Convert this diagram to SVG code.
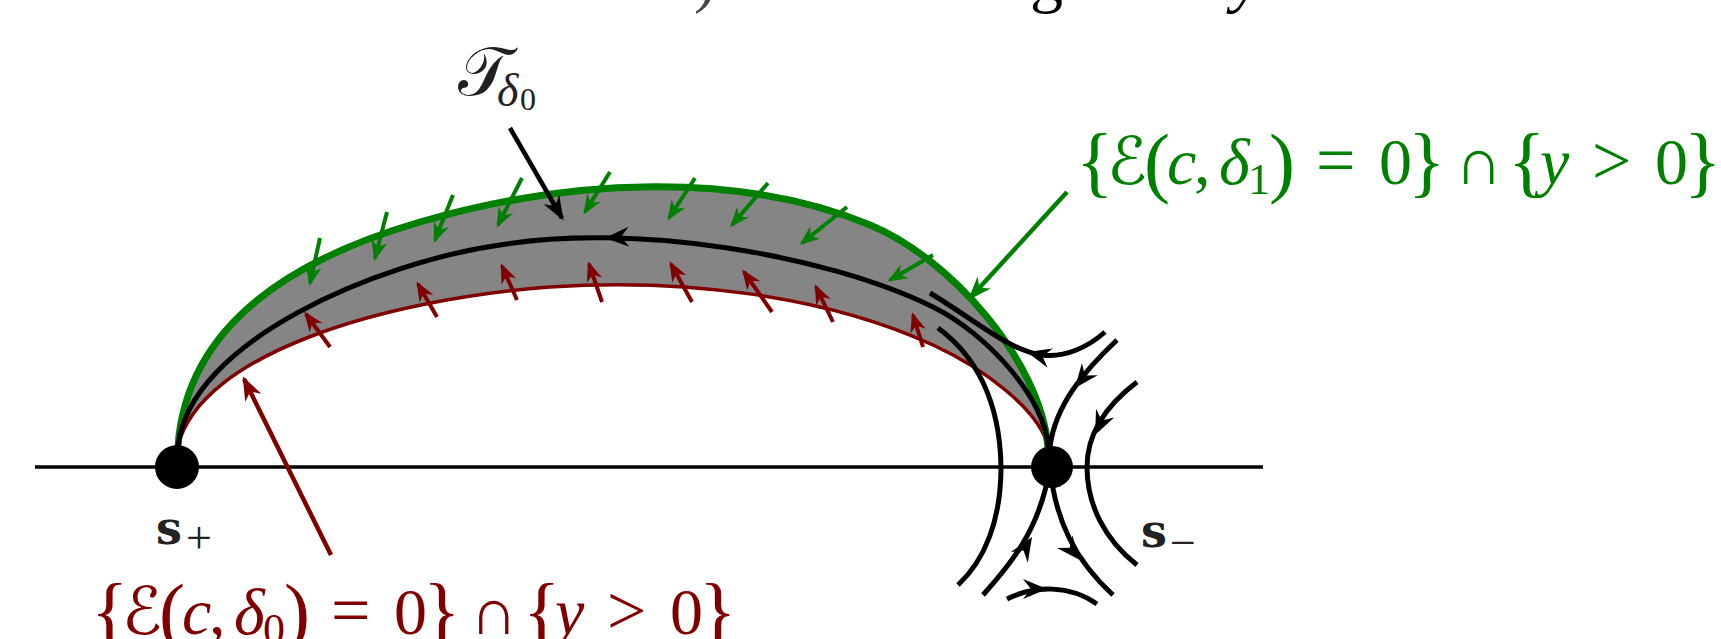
<svg xmlns="http://www.w3.org/2000/svg" width="1721" height="639" viewBox="0 0 1721 639">
<defs>
<style>
.m{font-family:"Liberation Serif","DejaVu Serif",serif;}
.i{font-style:italic}
.cal{font-family:"DejaVu Sans","DejaVu Serif",sans-serif;font-style:normal}
.br{font-size:78px}
.op{font-size:70px}
.gt{fill:#008000}
.rt{fill:#800000}
.bt{fill:#222}
.gs{stroke:#008000;fill:none}
.rs{stroke:#800000;fill:none}
.ks{stroke:#000;fill:none}
.ga{stroke:#008000;stroke-width:4;marker-end:url(#mg)}
.ra{stroke:#800000;stroke-width:4;marker-end:url(#mr)}
.sb{font-family:"DejaVu Serif","Liberation Serif",serif;font-weight:bold}
</style>
<marker id="mg" viewBox="-22 -10 26 20" markerWidth="26" markerHeight="20" refX="0" refY="0" orient="auto" markerUnits="userSpaceOnUse"><path d="M3,0 L-17,-8 L-11,0 L-17,8 Z" fill="#008000"/></marker>
<marker id="mr" viewBox="-22 -10 26 20" markerWidth="26" markerHeight="20" refX="0" refY="0" orient="auto" markerUnits="userSpaceOnUse"><path d="M3,0 L-17,-8 L-11,0 L-17,8 Z" fill="#800000"/></marker>
<marker id="mgL" viewBox="-26 -12 30 24" markerWidth="30" markerHeight="24" refX="0" refY="0" orient="auto" markerUnits="userSpaceOnUse"><path d="M3,0 L-21,-9 L-14,0 L-21,9 Z" fill="#008000"/></marker>
<marker id="mrL" viewBox="-26 -12 30 24" markerWidth="30" markerHeight="24" refX="0" refY="0" orient="auto" markerUnits="userSpaceOnUse"><path d="M3,0 L-21,-9 L-14,0 L-21,9 Z" fill="#800000"/></marker>
<marker id="mkL" viewBox="-26 -12 30 24" markerWidth="30" markerHeight="24" refX="0" refY="0" orient="auto" markerUnits="userSpaceOnUse"><path d="M3,0 L-21,-9 L-14,0 L-21,9 Z" fill="#000"/></marker>
<path id="ah" d="M0,0 L-24,-10 L-16,0 L-24,10 Z"/>
</defs>

<g id="top-fragments" class="m">
<text x="694" y="0" font-size="66" fill="#444">)</text>
<text x="1030" y="0" font-size="66" fill="#000">g</text>
<text x="1232" y="0" font-size="66" class="i" fill="#000">y</text>
</g>

<g id="axis">
<line x1="35" y1="467" x2="1263" y2="467" stroke="#000" stroke-width="3.5"/>
</g>

<g id="region">
<path d="M178,446 C188,310 320,251 420,222 C570,178 740,171 870,225 C950,258 1040,360 1048,447 C1040,410 983,368 933,345 C825,295 680,278 550,287 C380,300 200,355 178,446 Z" fill="#858585"/>
</g>

<g id="boundary-red">
<path class="rs" stroke-width="3.5" d="M178,446 C200,355 380,300 550,287 C680,278 825,295 933,345 C983,368 1040,410 1048,447"/>
</g>
<g id="boundary-green">
<path class="gs" stroke-width="7" d="M178,446 C188,310 320,251 420,222 C570,178 740,171 870,225 C950,258 1040,360 1048,447"/>
</g>

<g id="connectors">
<line class="ga" x1="320" y1="238" x2="310" y2="283"/>
<line class="ga" x1="387" y1="212" x2="375" y2="258"/>
<line class="ga" x1="453" y1="195" x2="435" y2="240"/>
<line class="ga" x1="522" y1="178" x2="498" y2="225"/>
<line class="ga" x1="610" y1="172" x2="585" y2="212"/>
<line class="ga" x1="695" y1="178" x2="669" y2="218"/>
<line class="ga" x1="768" y1="183" x2="732" y2="225"/>
<line class="ga" x1="847" y1="207" x2="802" y2="243"/>
<line class="ga" x1="933" y1="255" x2="890" y2="280"/>
<line class="ra" x1="330" y1="347" x2="306" y2="314"/>
<line class="ra" x1="437" y1="317" x2="418" y2="284"/>
<line class="ra" x1="517" y1="300" x2="502" y2="266"/>
<line class="ra" x1="602" y1="302" x2="589" y2="264"/>
<line class="ra" x1="692" y1="302" x2="671" y2="264"/>
<line class="ra" x1="772" y1="312" x2="744" y2="272"/>
<line class="ra" x1="833" y1="322" x2="816" y2="287"/>
<line class="ra" x1="923" y1="347" x2="913" y2="315"/>
<line x1="1067" y1="192" x2="970" y2="298" stroke="#008000" stroke-width="4.5" marker-end="url(#mgL)"/>
<line x1="331" y1="555" x2="244" y2="379" stroke="#800000" stroke-width="4.5" marker-end="url(#mrL)"/>
<line x1="510" y1="128" x2="562" y2="218" stroke="#000" stroke-width="4.5" marker-end="url(#mkL)"/>

<path class="ks" stroke-width="5" d="M178,446 C190,340 380,262 500,245 C630,223 823,253 933,307 C988,334 1046,400 1048,447"/>
<use href="#ah" transform="translate(605,238) rotate(177)"/>
<path class="ks" stroke-width="5" d="M1105,332 C1088,347 1065,358 1042,355 C1010,351 975,320 930,293"/>
<use href="#ah" transform="translate(1027,352) rotate(195)"/>
<path class="ks" stroke-width="5" d="M938,328 C975,355 1000,400 1001,467 C1001,520 985,560 958,585"/>
<path class="ks" stroke-width="5" d="M1117,340 C1085,370 1055,405 1050,447"/>
<use href="#ah" transform="translate(1075,388) rotate(128)"/>
<path class="ks" stroke-width="5" d="M983,595 C1010,565 1040,530 1050,467"/>
<use href="#ah" transform="translate(1032,537) rotate(-58)"/>
<path class="ks" stroke-width="5" d="M1050,467 C1055,520 1075,560 1113,595"/>
<use href="#ah" transform="translate(1080,560) rotate(50)"/>
<path class="ks" stroke-width="5" d="M1137,382 C1100,410 1087,440 1087,467 C1087,505 1105,540 1137,565"/>
<use href="#ah" transform="translate(1095,435) rotate(115)"/>
<path class="ks" stroke-width="5" d="M1007,599 C1035,585 1070,585 1097,604"/>
<use href="#ah" transform="translate(1047,589) rotate(0)"/>
</g>

<g id="s-plus">
<circle cx="177" cy="467" r="22" fill="#000"/>
<text class="sb bt" x="156" y="544" font-size="46">s</text>
<text class="m bt" x="186" y="553" font-size="46">+</text>
</g>

<g id="s-minus">
<circle cx="1052" cy="467" r="21" fill="#000"/>
<text class="sb bt" x="1141" y="547" font-size="46">s</text>
<text class="m bt" x="1170" y="558" font-size="46">−</text>
</g>

<g id="label-T">
<text class="m bt" font-size="68"><tspan class="cal" x="458" y="95">𝒯</tspan><tspan class="i" x="497" y="106" font-size="46">δ</tspan><tspan x="520" y="110" font-size="32">0</tspan></text>
</g>

<g id="label-green">
<text class="m gt" font-size="66"><tspan class="br" x="1076" y="188">{</tspan><tspan class="cal" x="1107" y="184">ℰ</tspan><tspan class="br" x="1144" y="188">(</tspan><tspan class="i" x="1167" y="184">c</tspan><tspan x="1194" y="184">,</tspan><tspan class="i" x="1219" y="184">δ</tspan><tspan x="1248" y="194" font-size="44">1</tspan><tspan class="br" x="1269" y="188">)</tspan><tspan class="op" x="1316" y="184">=</tspan><tspan x="1379" y="184">0</tspan><tspan class="br" x="1408" y="188">}</tspan><tspan x="1455" y="184">∩</tspan><tspan class="br" x="1508" y="188">{</tspan><tspan class="i" x="1540" y="184">y</tspan><tspan class="op" x="1592" y="184">&gt;</tspan><tspan x="1655" y="184">0</tspan><tspan class="br" x="1684" y="188">}</tspan></text>
</g>

<g id="label-red">
<text class="m rt" font-size="66"><tspan class="br" x="91" y="638">{</tspan><tspan class="cal" x="122" y="634">ℰ</tspan><tspan class="br" x="159" y="638">(</tspan><tspan class="i" x="182" y="634">c</tspan><tspan x="209" y="634">,</tspan><tspan class="i" x="234" y="634">δ</tspan><tspan x="263" y="644" font-size="44">0</tspan><tspan class="br" x="284" y="638">)</tspan><tspan class="op" x="331" y="634">=</tspan><tspan x="394" y="634">0</tspan><tspan class="br" x="423" y="638">}</tspan><tspan x="470" y="634">∩</tspan><tspan class="br" x="523" y="638">{</tspan><tspan class="i" x="555" y="634">y</tspan><tspan class="op" x="607" y="634">&gt;</tspan><tspan x="670" y="634">0</tspan><tspan class="br" x="699" y="638">}</tspan></text>
</g>
</svg>
